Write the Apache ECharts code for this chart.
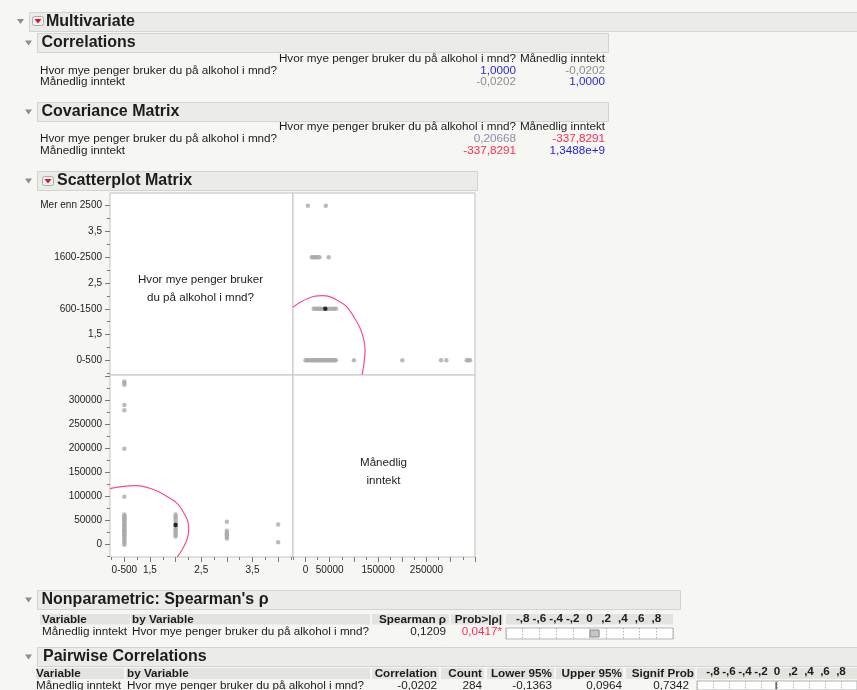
<!DOCTYPE html>
<html>
<head>
<meta charset="utf-8">
<script src="https://cdn.jsdelivr.net/npm/echarts@6/dist/echarts.min.js"></script>
<style>
  html, body { margin: 0; padding: 0; background: #f6f6f3; }
  #chart { width: 857px; height: 690px; }
</style>
</head>
<body>
<div id="chart"></div>
<script>
  // variabler i analysen
  const variabler = ['Hvor mye penger bruker du på alkohol i mnd?', 'Månedlig inntekt'];
  const alkoholKategorier = { 1: '0-500', 2: '600-1500', 3: '1600-2500', 4: 'Mer enn 2500' };

  // tabellverdier (som vist i rapporten)
  const korrelasjoner = [['1,0000', '-0,0202'], ['-0,0202', '1,0000']];
  const korrFarger = [['#2a2ad6', '#8f8f8f'], ['#8f8f8f', '#2a2ad6']];
  const kovarianser = [['0,20668', '-337,8291'], ['-337,8291', '1,3488e+9']];
  const kovFarger = [['#8a8ab2', '#ff2a55'], ['#ff2a55', '#1f1fe0']];

  const spearmanRho = 0.1209;
  const spearmanP = '0,0417*';
  const parvisKorr = -0.0202;
  const parvisAntall = 284;
  const parvisNedre = -0.1363;
  const parvisOvre = 0.0964;
  const parvisSignif = 0.7342;

  // punkter: alkohol-kode (1..4) og månedlig inntekt
  const alkoholKode = [
    1, 1, 1, 1, 1, 1, 1, 1, 1, 1, 1, 1, 1, 1, 1, 1, 1, 1, 1, 1, 1, 1, 1, 1, 1, 1, 1, 1, 1, 1, 1, 1,
    2, 2, 2, 2, 2, 2, 2, 2, 2, 2, 2, 2,
    3, 3, 3, 3, 3, 3, 3,
    4, 4
  ];
  const inntekt = [
    0, 3000, 6000, 9000, 12000, 15000, 18000, 20000, 22000, 25000, 28000, 30000, 32000, 35000, 38000, 40000,
    42000, 45000, 48000, 50000, 53000, 55000, 58000, 60000, 63000, 100000, 200000, 280000, 291000, 333000, 337000, 340000,
    17000, 20000, 24000, 27000, 30000, 34000, 38000, 45000, 50000, 55000, 59000, 63000,
    13000, 16000, 19000, 22000, 25000, 29000, 48000,
    5000, 42000
  ];
  const markertPunkt = [2, 41000];

  // tetthetsellipse (lest av bildet), inntekt / alkohol-kode
  const ellipseInntekt = [-26000, -10000, 5000, 20000, 35000, 50000, 70000, 85000, 100000, 112000, 120000, 123000, 121000, 117000];
  const ellipseKode = [2.03, 2.13, 2.2, 2.245, 2.255, 2.235, 2.14, 2.04, 1.84, 1.64, 1.42, 1.2, 0.95, 0.72];

  // aksemerker
  const alkoholMajor = [1, 1.5, 2, 2.5, 3, 3.5, 4];
  const alkoholMinor = [0.75, 1.25, 1.75, 2.25, 2.75, 3.25, 3.75, 4.25];
  const inntektMajor = [0, 50000, 100000, 150000, 200000, 250000, 300000, 350000];
  const inntektMinor = [-25000, 25000, 75000, 125000, 175000, 225000, 275000, 325000];
  const alkoholEtiketterX = [1, 1.5, 2.5, 3.5];
  const inntektEtiketterY = [0, 50000, 100000, 150000, 200000, 250000, 300000];
  const inntektEtiketterX = [0, 50000, 150000, 250000];
  const skalaEtiketter = [-0.8, -0.6, -0.4, -0.2, 0, 0.2, 0.4, 0.6, 0.8];

  const FONT = "'Liberation Sans', Arial, sans-serif";
  const TS = 11.7; // tabellskrift
  const dom = document.getElementById('chart');
  const chart = echarts.init(dom);

  function komma(v, d) {
    return v.toFixed(d).replace('.', ',');
  }
  function alkoholTekst(v) {
    return alkoholKategorier[v] || String(v).replace('.', ',');
  }
  function skalaTekst(v) {
    if (Math.abs(v) < 1e-9) return '0';
    return v.toFixed(1).replace('0.', ',');
  }

  /* tekst-element */
  function txt(x, y, s, o) {
    o = o || {};
    return {
      type: 'text', x: x, y: y, silent: true,
      style: {
        text: s,
        font: (o.bold ? 'bold ' : '') + (o.size || TS) + 'px ' + FONT,
        fill: o.color || '#1c1c1c',
        textAlign: o.align || 'left',
        textVerticalAlign: 'middle'
      }
    };
  }
  function boks(x, y, w, h, fill, stroke) {
    return {
      type: 'rect', silent: true,
      shape: { x: x + 0.5, y: y + 0.5, width: w, height: h },
      style: { fill: fill || '#ebebe8', stroke: stroke || '#d3d3cf', lineWidth: 1 }
    };
  }
  function trekant(cx, cy) {
    return {
      type: 'polygon', silent: true,
      shape: { points: [[cx - 3.5, cy - 2], [cx + 3.5, cy - 2], [cx, cy + 3]] },
      style: { fill: '#8e8e8e' }
    };
  }
  function rodIkon(x, y) {
    return [
      { type: 'rect', silent: true, shape: { x: x + 0.5, y: y + 0.5, width: 11, height: 9, r: 2 }, style: { fill: '#f3f3f3', stroke: '#a9a9a9' } },
      { type: 'polygon', silent: true, shape: { points: [[x + 2.5, y + 3], [x + 9.5, y + 3], [x + 6, y + 7.5]] }, style: { fill: '#e0141e' } }
    ];
  }
  function seksjon(x, y, w, tittel, tx, trx) {
    return [boks(x, y, w, 19), trekant(trx, y + 9.5), txt(tx, y + 10, tittel, { bold: true, size: 16 })];
  }

  // grafiske elementer: overskrifter og tabeller
  let g = [];
  g.push(boks(29, 12, 840, 19));
  g.push(trekant(20.5, 21));
  g = g.concat(rodIkon(32, 16));
  g.push(txt(46, 21.5, 'Multivariate', { bold: true, size: 16 }));

  // Correlations
  g = g.concat(seksjon(37, 33, 571, 'Correlations', 41.5, 28.5));
  g.push(txt(516, 59, variabler[0], { align: 'right' }));
  g.push(txt(605, 59, variabler[1], { align: 'right' }));
  for (let r = 0; r < 2; r++) {
    const y = 70.5 + r * 11.2;
    g.push(txt(40, y, variabler[r]));
    g.push(txt(516, y, korrelasjoner[r][0], { align: 'right', color: korrFarger[r][0] }));
    g.push(txt(605, y, korrelasjoner[r][1], { align: 'right', color: korrFarger[r][1] }));
  }

  // Covariance Matrix
  g = g.concat(seksjon(37, 102, 571, 'Covariance Matrix', 41.5, 28.5));
  g.push(txt(516, 127, variabler[0], { align: 'right' }));
  g.push(txt(605, 127, variabler[1], { align: 'right' }));
  for (let r = 0; r < 2; r++) {
    const y = 139 + r * 11.7;
    g.push(txt(40, y, variabler[r]));
    g.push(txt(516, y, kovarianser[r][0], { align: 'right', color: kovFarger[r][0] }));
    g.push(txt(605, y, kovarianser[r][1], { align: 'right', color: kovFarger[r][1] }));
  }

  // Scatterplot Matrix
  g.push(boks(37, 171, 440, 19));
  g.push(trekant(28.5, 180.5));
  g = g.concat(rodIkon(42, 176));
  g.push(txt(57, 181, 'Scatterplot Matrix', { bold: true, size: 16 }));
  g.push(txt(200.5, 280, 'Hvor mye penger bruker', { size: 11.6, align: 'center' }));
  g.push(txt(200.5, 298, 'du på alkohol i mnd?', { size: 11.6, align: 'center' }));
  g.push(txt(383.5, 463, 'Månedlig', { size: 11.6, align: 'center' }));
  g.push(txt(383.5, 481, 'inntekt', { size: 11.6, align: 'center' }));

  // Nonparametric: Spearman's rho
  g = g.concat(seksjon(37, 590, 643, "Nonparametric: Spearman's ρ", 41.5, 28.5));
  [[40, 90], [131, 239], [372, 77], [451, 52], [506, 167]].forEach(function (c) {
    g.push({ type: 'rect', silent: true, shape: { x: c[0], y: 614, width: c[1], height: 10.5 }, style: { fill: '#e3e3df' } });
  });
  g.push(txt(42, 619.5, 'Variable', { bold: true }));
  g.push(txt(132, 619.5, 'by Variable', { bold: true }));
  g.push(txt(446, 619.5, 'Spearman ρ', { bold: true, align: 'right' }));
  g.push(txt(502, 619.5, 'Prob>|ρ|', { bold: true, align: 'right' }));
  g.push(txt(42, 631.5, variabler[1]));
  g.push(txt(132, 631.5, variabler[0]));
  g.push(txt(446, 631.5, komma(spearmanRho, 4), { align: 'right' }));
  g.push(txt(502, 631.5, spearmanP, { align: 'right', color: '#ff2d5a' }));

  // Pairwise Correlations
  g = g.concat(seksjon(37, 647, 840, 'Pairwise Correlations', 43, 28.5));
  [[36, 88], [126, 244], [372, 67], [441, 43], [487, 67], [556, 67], [626, 69], [697, 170]].forEach(function (c) {
    g.push({ type: 'rect', silent: true, shape: { x: c[0], y: 668, width: c[1], height: 11 }, style: { fill: '#e3e3df' } });
  });
  g.push(txt(36, 673.5, 'Variable', { bold: true }));
  g.push(txt(127, 673.5, 'by Variable', { bold: true }));
  g.push(txt(437, 673.5, 'Correlation', { bold: true, align: 'right' }));
  g.push(txt(482, 673.5, 'Count', { bold: true, align: 'right' }));
  g.push(txt(552, 673.5, 'Lower 95%', { bold: true, align: 'right' }));
  g.push(txt(622, 673.5, 'Upper 95%', { bold: true, align: 'right' }));
  g.push(txt(694, 673.5, 'Signif Prob', { bold: true, align: 'right' }));
  g.push(txt(36, 685.5, variabler[1]));
  g.push(txt(127, 685.5, variabler[0]));
  g.push(txt(437, 685.5, komma(parvisKorr, 4), { align: 'right' }));
  g.push(txt(482, 685.5, String(parvisAntall), { align: 'right' }));
  g.push(txt(552, 685.5, komma(parvisNedre, 4), { align: 'right' }));
  g.push(txt(622, 685.5, komma(parvisOvre, 4), { align: 'right' }));
  g.push(txt(689, 685.5, komma(parvisSignif, 4), { align: 'right' }));

  // akser
  const alkY = [0.715, 4.246];
  const alkX = [0.72, 4.29];
  const innX = [-25800, 350200];
  const innY = [-25600, 353500];
  const tickFarge = '#7c7c7c';

  function skjult(gi, ext) {
    return { type: 'value', gridIndex: gi, min: ext[0], max: ext[1], show: false };
  }
  function tickAkse(gi, ext, pos, ticks, len, etiketter, fmt) {
    const inne = ticks.filter(function (v) { return v >= ext[0] && v <= ext[1]; });
    return {
      type: 'value', gridIndex: gi, min: ext[0], max: ext[1], position: pos,
      axisLine: { show: false, onZero: false },
      splitLine: { show: false },
      axisTick: { show: true, customValues: inne, length: len, lineStyle: { color: tickFarge } },
      axisLabel: etiketter ? {
        show: true, customValues: etiketter, formatter: fmt, margin: 8,
        fontSize: 10, color: '#222', fontFamily: FONT
      } : { show: false }
    };
  }
  function skalaAkse(gi) {
    return {
      type: 'value', gridIndex: gi, min: -1, max: 1, interval: 0.2, position: 'top',
      axisLine: { show: false, onZero: false },
      axisTick: { show: false },
      splitLine: { show: true, lineStyle: { color: '#b4b4b4', type: [1.5, 1.5], width: 1 } },
      axisLabel: {
        customValues: skalaEtiketter, formatter: skalaTekst, margin: 3,
        fontSize: TS, fontWeight: 'bold', color: '#1c1c1c', fontFamily: FONT
      }
    };
  }

  const celle = { show: true, backgroundColor: '#fff', borderColor: '#c2c2c2', borderWidth: 1 };

  const option = {
    animation: false,
    backgroundColor: '#f6f6f3',
    graphic: { elements: g },
    grid: [
      Object.assign({ left: 110, top: 193, width: 183, height: 182 }, celle),
      Object.assign({ left: 293, top: 193, width: 182, height: 182 }, celle),
      Object.assign({ left: 110, top: 375, width: 183, height: 182 }, celle),
      Object.assign({ left: 293, top: 375, width: 182, height: 182 }, celle),
      { left: 506, top: 628, width: 167, height: 11, show: true, backgroundColor: '#fff', borderColor: '#b3b3b3', borderWidth: 1 },
      { left: 697, top: 681, width: 167, height: 12, show: true, backgroundColor: '#fff', borderColor: '#b3b3b3', borderWidth: 1 }
    ],
    xAxis: [
      skjult(0, alkX),
      skjult(1, innX),
      tickAkse(2, alkX, 'bottom', alkoholMajor, 5, alkoholEtiketterX, alkoholTekst),
      tickAkse(3, innX, 'bottom', inntektMajor, 5, inntektEtiketterX, function (v) { return String(v); }),
      tickAkse(2, alkX, 'bottom', alkoholMinor, 3),
      tickAkse(3, innX, 'bottom', inntektMinor, 3),
      skalaAkse(4),
      skalaAkse(5)
    ],
    yAxis: [
      tickAkse(0, alkY, 'left', alkoholMajor, 5, alkoholMajor, alkoholTekst),
      skjult(1, alkY),
      tickAkse(2, innY, 'left', inntektMajor, 5, inntektEtiketterY, function (v) { return String(v); }),
      skjult(3, innY),
      tickAkse(0, alkY, 'left', alkoholMinor, 3),
      tickAkse(2, innY, 'left', inntektMinor, 3),
      { type: 'category', gridIndex: 4, data: ['rho'], show: false },
      { type: 'category', gridIndex: 5, data: ['r'], show: false }
    ],
    series: [
      {
        type: 'line', xAxisIndex: 1, yAxisIndex: 1, smooth: 0.35, showSymbol: false, silent: true,
        lineStyle: { color: '#fb4f7c', width: 1.2 },
        data: ellipseInntekt.map(function (v, i) { return [v, ellipseKode[i]]; })
      },
      {
        type: 'scatter', xAxisIndex: 1, yAxisIndex: 1, symbolSize: 4.5, silent: true,
        itemStyle: { color: '#aaaaaa' },
        data: inntekt.map(function (v, i) { return [v, alkoholKode[i]]; })
      },
      {
        type: 'scatter', xAxisIndex: 1, yAxisIndex: 1, symbolSize: 4.5, silent: true,
        itemStyle: { color: '#000' }, data: [[markertPunkt[1], markertPunkt[0]]]
      },
      {
        type: 'line', xAxisIndex: 2, yAxisIndex: 2, smooth: 0.35, showSymbol: false, silent: true,
        lineStyle: { color: '#fb4f7c', width: 1.2 },
        data: ellipseKode.map(function (v, i) { return [v, ellipseInntekt[i]]; })
      },
      {
        type: 'scatter', xAxisIndex: 2, yAxisIndex: 2, symbolSize: 4.5, silent: true,
        itemStyle: { color: '#aaaaaa' },
        data: alkoholKode.map(function (v, i) { return [v, inntekt[i]]; })
      },
      {
        type: 'scatter', xAxisIndex: 2, yAxisIndex: 2, symbolSize: 4.5, silent: true,
        itemStyle: { color: '#000' }, data: [markertPunkt]
      },
      {
        type: 'bar', xAxisIndex: 6, yAxisIndex: 6, barWidth: 8, silent: true,
        itemStyle: { color: '#c6c6c6', borderColor: '#8a8a8a', borderWidth: 1 },
        data: [spearmanRho]
      },
      {
        type: 'bar', xAxisIndex: 7, yAxisIndex: 7, barWidth: 8, silent: true,
        itemStyle: { color: '#c6c6c6', borderColor: '#6a6a6a', borderWidth: 1 },
        data: [parvisKorr]
      }
    ]
  };

  chart.setOption(option);
  window.addEventListener('resize', function () {
    chart.resize();
  });
</script>
</body>
</html>
